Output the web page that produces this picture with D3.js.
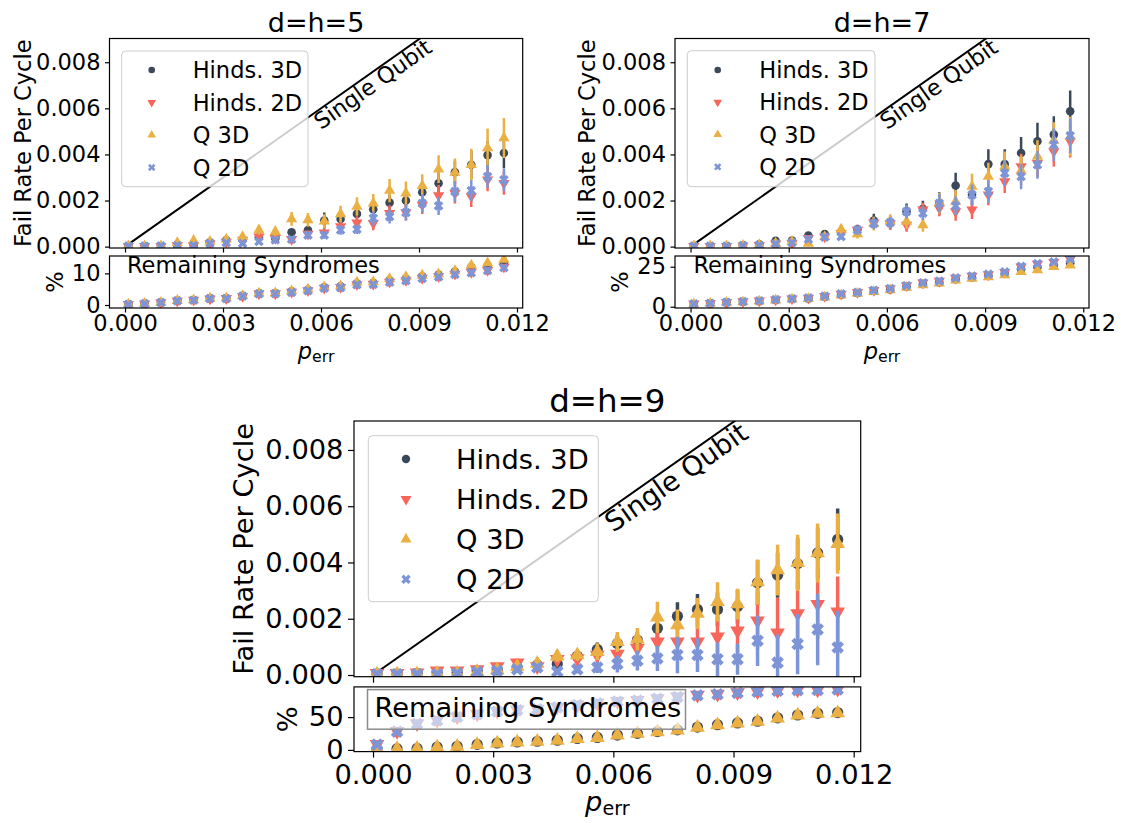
<!DOCTYPE html>
<html>
<head>
<meta charset="utf-8">
<script src="https://cdn.jsdelivr.net/npm/d3@7"></script>
<style>
  body { margin: 0; background: #fff; }
  svg { font-family: "DejaVu Sans", sans-serif; }
</style>
</head>
<body>
<div id="chart"></div>
<script>
// x axis: physical error rate
var pErr = [0.0001, 0.0006, 0.0011, 0.0016, 0.0021, 0.0026, 0.0031, 0.0036, 0.0041, 0.0046, 0.0051, 0.0056,
            0.0061, 0.0066, 0.0071, 0.0076, 0.0081, 0.0086, 0.0091, 0.0096, 0.0101, 0.0106, 0.0111, 0.0116];

var seriesNames = ["Hinds. 3D", "Hinds. 2D", "Q 3D", "Q 2D"];
var seriesColours = ["#3b4858", "#f8665b", "#ebb043", "#7d95d6"];
var seriesShapes = ["circle", "down", "up", "x"];

var xTicks = [0, 0.003, 0.006, 0.009, 0.012];
var failTicks = [0, 2, 4, 6, 8];           // units of 1e-3

// single qubit reference (fail rate = p_err), y in units of 1e-3
var singleQubit = [[0, 0], [0.0125, 12.5]];
var singleQubitLabel = [0.006, 5.05];

// d=h=5 : fail rate per cycle (x1e-3) and error bars
var fail5H3 = [0.03, 0.03, 0.03, 0.07, 0.07, 0.19, 0.29, 0.29, 0.40, 0.36, 0.62, 0.72, 1.13, 1.20, 1.42, 1.62, 1.91, 2.00, 2.36, 2.75, 3.23, 3.55, 3.97, 4.06];
var fail5H2 = [0.02, 0.02, 0.02, 0.05, 0.05, 0.14, 0.20, 0.29, 0.43, 0.36, 0.32, 0.55, 0.60, 0.87, 1.04, 1.01, 1.45, 1.48, 1.81, 2.22, 2.32, 2.17, 2.90, 2.75];
var fail5Q3 = [0.03, 0.03, 0.03, 0.17, 0.26, 0.22, 0.32, 0.43, 0.72, 0.65, 1.20, 1.16, 1.10, 1.42, 1.74, 1.88, 2.43, 2.32, 2.64, 3.36, 3.22, 3.55, 4.28, 4.71];
var fail5Q2 = [0.02, 0.02, 0.03, 0.05, 0.05, 0.14, 0.17, 0.14, 0.22, 0.29, 0.32, 0.50, 0.50, 0.72, 0.75, 1.23, 1.30, 1.48, 1.88, 1.77, 2.39, 2.43, 3.04, 2.90];
var err5H3 = [0.01, 0.01, 0.01, 0.03, 0.03, 0.06, 0.08, 0.08, 0.10, 0.10, 0.15, 0.18, 0.35, 0.25, 0.30, 0.35, 0.35, 0.40, 0.45, 0.55, 0.50, 0.60, 0.60, 0.65];
var err5H2 = [0.01, 0.01, 0.01, 0.03, 0.03, 0.05, 0.07, 0.08, 0.10, 0.10, 0.10, 0.15, 0.18, 0.25, 0.28, 0.30, 0.35, 0.35, 0.40, 0.45, 0.45, 0.45, 0.50, 0.50];
var err5Q3 = [0.01, 0.01, 0.01, 0.06, 0.08, 0.07, 0.10, 0.15, 0.20, 0.20, 0.30, 0.30, 0.30, 0.35, 0.40, 0.40, 0.50, 0.50, 0.50, 0.60, 0.60, 0.70, 0.85, 0.87];
var err5Q2 = [0.01, 0.01, 0.01, 0.03, 0.03, 0.05, 0.06, 0.05, 0.08, 0.10, 0.10, 0.15, 0.15, 0.20, 0.20, 0.30, 0.30, 0.35, 0.40, 0.40, 0.45, 0.45, 0.50, 0.50];
// d=h=5 : remaining syndromes (%)
var rem5H3 = [0.2, 0.5, 0.8, 1.4, 1.6, 2.1, 2.1, 2.9, 3.7, 3.7, 4.3, 4.8, 5.6, 5.9, 6.9, 7.0, 7.8, 8.4, 9.1, 9.6, 10.6, 12.0, 12.5, 13.1];
var rem5H2 = [0.2, 0.4, 0.8, 1.3, 1.6, 2.0, 2.1, 2.8, 3.6, 3.6, 4.1, 4.6, 5.4, 5.6, 6.5, 6.6, 7.3, 7.8, 8.5, 9.0, 9.8, 10.4, 11.0, 12.0];
var rem5Q3 = [0.2, 0.5, 0.8, 1.4, 1.6, 2.1, 2.2, 2.9, 3.7, 3.8, 4.4, 5.0, 5.7, 6.0, 7.2, 7.3, 8.3, 8.9, 9.4, 9.8, 10.8, 12.6, 13.3, 14.4];
var rem5Q2 = [0.2, 0.4, 0.8, 1.3, 1.5, 2.0, 2.0, 2.8, 3.5, 3.6, 4.0, 4.5, 5.3, 5.5, 6.4, 6.5, 7.2, 7.7, 8.4, 8.9, 9.7, 10.2, 10.9, 11.8];

// d=h=7
var fail7H3 = [0.03, 0.03, 0.03, 0.06, 0.10, 0.25, 0.26, 0.48, 0.55, 0.62, 0.75, 1.13, 1.04, 1.52, 1.64, 1.86, 2.65, 2.25, 3.58, 3.58, 4.06, 4.57, 4.86, 5.87];
var fail7H2 = [0.02, 0.02, 0.02, 0.04, 0.06, 0.12, 0.15, 0.36, 0.43, 0.58, 0.72, 1.04, 0.99, 0.94, 1.60, 1.67, 1.52, 1.60, 2.25, 2.83, 3.48, 3.62, 4.13, 4.57];
var fail7Q3 = [0.03, 0.03, 0.03, 0.05, 0.08, 0.14, 0.22, 0.14, 0.43, 0.75, 0.55, 1.00, 1.10, 1.09, 0.94, 1.88, 1.96, 2.61, 3.04, 3.48, 3.30, 3.91, 4.60, 4.78];
var fail7Q2 = [0.02, 0.02, 0.02, 0.04, 0.06, 0.12, 0.17, 0.32, 0.41, 0.43, 0.72, 1.00, 1.04, 1.52, 1.45, 1.88, 1.77, 2.25, 2.39, 3.19, 3.04, 3.55, 4.42, 4.81];
var err7H3 = [0.01, 0.01, 0.01, 0.03, 0.04, 0.08, 0.08, 0.12, 0.15, 0.18, 0.20, 0.30, 0.30, 0.35, 0.35, 0.50, 0.55, 0.45, 0.65, 0.65, 0.70, 0.80, 0.80, 0.90];
var err7H2 = [0.01, 0.01, 0.01, 0.02, 0.03, 0.05, 0.06, 0.10, 0.12, 0.15, 0.20, 0.25, 0.25, 0.30, 0.30, 0.35, 0.40, 0.40, 0.45, 0.50, 0.55, 0.60, 0.65, 0.70];
var err7Q3 = [0.01, 0.01, 0.01, 0.03, 0.04, 0.06, 0.08, 0.06, 0.15, 0.20, 0.20, 0.30, 0.30, 0.30, 0.30, 0.45, 0.50, 0.55, 0.60, 0.65, 0.65, 0.70, 0.80, 0.85];
var err7Q2 = [0.01, 0.01, 0.01, 0.02, 0.03, 0.05, 0.06, 0.10, 0.12, 0.12, 0.20, 0.25, 0.25, 0.30, 0.30, 0.40, 0.40, 0.45, 0.50, 0.55, 0.55, 0.60, 0.70, 0.75];
var rem7H3 = [1.7, 2.1, 2.7, 3.1, 3.5, 4.2, 4.8, 5.2, 6.2, 7.5, 8.6, 9.8, 10.8, 12.5, 14.2, 15.2, 17.2, 18.3, 19.3, 20.6, 23.4, 24.8, 25.8, 27.2];
var rem7H2 = [1.8, 2.2, 2.8, 3.2, 3.7, 4.4, 5.0, 5.5, 6.6, 8.0, 9.0, 10.3, 11.4, 13.2, 15.0, 16.0, 18.0, 19.2, 20.2, 21.6, 25.0, 26.7, 27.8, 29.6];
var rem7Q3 = [1.6, 2.0, 2.6, 3.0, 3.4, 4.0, 4.6, 5.0, 6.0, 7.2, 8.3, 9.4, 10.4, 12.0, 13.6, 14.6, 16.6, 17.6, 18.6, 19.8, 21.9, 22.9, 25.0, 26.0];
var rem7Q2 = [1.8, 2.2, 2.8, 3.2, 3.7, 4.4, 5.0, 5.5, 6.6, 8.0, 9.0, 10.3, 11.4, 13.2, 15.0, 16.0, 18.0, 19.2, 20.4, 21.8, 25.2, 26.9, 28.0, 29.8];

// d=h=9
var fail9H3 = [0.04, 0.04, 0.06, 0.08, 0.08, 0.15, 0.18, 0.27, 0.36, 0.39, 0.67, 0.91, 1.12, 1.24, 1.66, 2.09, 2.33, 2.33, 2.43, 3.28, 3.55, 3.96, 4.34, 4.82];
var fail9H2 = [0.06, 0.06, 0.08, 0.15, 0.15, 0.20, 0.30, 0.44, 0.30, 0.56, 0.59, 0.71, 0.75, 0.95, 1.18, 1.18, 1.18, 1.36, 1.57, 1.93, 1.50, 2.19, 2.52, 2.25];
var fail9Q3 = [0.03, 0.03, 0.04, 0.05, 0.05, 0.12, 0.18, 0.30, 0.41, 0.67, 0.71, 0.83, 1.18, 1.27, 2.05, 1.78, 2.19, 2.60, 2.52, 3.31, 3.73, 3.99, 4.34, 4.67];
var fail9Q2 = [0.03, 0.03, 0.03, 0.03, 0.06, 0.11, 0.15, 0.20, 0.27, 0.12, 0.20, 0.27, 0.39, 0.51, 0.59, 0.71, 0.71, 0.56, 0.56, 1.22, 0.44, 1.10, 1.62, 0.98];
var err9H3 = [0.02, 0.02, 0.02, 0.03, 0.03, 0.05, 0.06, 0.10, 0.12, 0.12, 0.20, 0.25, 0.30, 0.30, 0.35, 0.50, 0.55, 0.60, 0.60, 0.80, 0.80, 0.90, 0.90, 1.10];
var err9H2 = [0.03, 0.03, 0.03, 0.06, 0.06, 0.08, 0.10, 0.15, 0.12, 0.20, 0.25, 0.30, 0.35, 0.40, 0.45, 0.60, 0.60, 0.70, 0.85, 1.00, 1.25, 1.10, 1.25, 1.25];
var err9Q3 = [0.02, 0.02, 0.02, 0.03, 0.03, 0.05, 0.06, 0.10, 0.12, 0.20, 0.20, 0.30, 0.35, 0.40, 0.55, 0.55, 0.55, 0.70, 0.55, 0.80, 0.90, 1.00, 1.05, 1.07];
var err9Q2 = [0.02, 0.02, 0.02, 0.02, 0.03, 0.05, 0.06, 0.10, 0.12, 0.10, 0.15, 0.20, 0.30, 0.35, 0.45, 0.65, 0.60, 0.60, 0.55, 0.90, 1.00, 1.07, 1.27, 1.30];
var rem9H3 = [1.5, 1.8, 2.2, 4.3, 5.5, 8.4, 10.5, 12.0, 13.2, 14.7, 17.4, 19.0, 22.6, 25.2, 27.8, 30.5, 34.7, 38.4, 41.1, 43.7, 48.9, 53.2, 55.8, 56.9];
var rem9H2 = [8.5, 28.5, 40.2, 45.4, 50.6, 54.8, 58.9, 61.0, 62.4, 65.2, 68.9, 71.5, 74.1, 75.6, 78.4, 81.0, 83.6, 85.1, 87.3, 88.9, 90.5, 91.5, 91.6, 92.6];
var rem9Q3 = [1.2, 1.6, 2.0, 4.0, 5.2, 8.0, 10.2, 11.6, 12.8, 14.3, 17.0, 18.6, 22.2, 24.8, 27.4, 30.0, 34.2, 38.0, 40.6, 43.3, 48.4, 52.8, 55.4, 56.4];
var rem9Q2 = [8.0, 27.8, 39.6, 44.8, 50.0, 54.2, 58.4, 60.6, 62.0, 64.8, 68.5, 71.1, 73.7, 75.2, 78.0, 80.6, 83.2, 84.7, 86.9, 88.5, 90.1, 91.1, 91.2, 92.2];

// layout of the three panels
var panels = [
    { id: 5, title: "d=h=5", fail: [fail5H3, fail5H2, fail5Q3, fail5Q2], err: [err5H3, err5H2, err5Q3, err5Q2],
      rem: [rem5H3, rem5H2, rem5Q3, rem5Q2], remDomain: [-0.95, 15.5], remTicks: [0, 10],
      left: 109.5, right: 522.7, top: 38.5, mainBottom: 248, subTop: 256, subBottom: 308,
      font: 22.5, titleFont: 27, titleY: 32.3, ylabelX: 22.5, pctX: 55, xlabelY: 359,
      tick: 4.5, xPad: 2.5, yPad: 4.5, markerR: 4.3, ebWidth: 2.5, legMarkerR: 3.3,
      legX: 121.7, legY: 51, legW: 186.3, legH: 135.7, legMarkX: 30, legTextX: 71, legRow0: 19, legStep: 32.5,
      remTextX: 127, remTextY: 273, remBox: null },
    { id: 7, title: "d=h=7", fail: [fail7H3, fail7H2, fail7Q3, fail7Q2], err: [err7H3, err7H2, err7Q3, err7Q2],
      rem: [rem7H3, rem7H2, rem7Q3, rem7Q2], remDomain: [-0.8, 31.7], remTicks: [0, 25],
      left: 675, right: 1089, top: 38.5, mainBottom: 248, subTop: 256, subBottom: 308,
      font: 22.5, titleFont: 27, titleY: 32.3, ylabelX: 587, pctX: 620, xlabelY: 359,
      tick: 4.5, xPad: 2.5, yPad: 4.5, markerR: 4.3, ebWidth: 2.5, legMarkerR: 3.3,
      legX: 687.3, legY: 50.7, legW: 187.7, legH: 136, legMarkX: 30.4, legTextX: 72, legRow0: 19.3, legStep: 32.3,
      remTextX: 693.5, remTextY: 273, remBox: null },
    { id: 9, title: "d=h=9", fail: [fail9H3, fail9H2, fail9Q3, fail9Q2], err: [err9H3, err9H2, err9Q3, err9Q2],
      rem: [rem9H3, rem9H2, rem9Q3, rem9Q2], remDomain: [-2.6, 96], remTicks: [0, 50],
      left: 354, right: 860.7, top: 421, mainBottom: 676.7, subTop: 686.9, subBottom: 751.6,
      font: 27.3, titleFont: 32.5, titleY: 411.7, ylabelX: 243, pctX: 287.5, xlabelY: 811,
      tick: 6, xPad: 7, yPad: 4.5, markerR: 5.6, ebWidth: 3.5, legMarkerR: 4.2,
      legX: 368.3, legY: 435.7, legW: 230, legH: 166, legMarkX: 37.7, legTextX: 87.7, legRow0: 23.3, legStep: 40.1,
      remTextX: 374.5, remTextY: 717, remBox: { x: 367.5, y: 689.6, w: 318, h: 39.6 } }
];

var xDomain = [-0.000475, 0.012175];
var failDomain = [-0.06, 9.03];

var svg = d3.select("#chart").append("svg")
    .attr("width", 1122)
    .attr("height", 823);
var defs = svg.append("defs");

function markerPath(shape, r) {
    var area = Math.PI * r * r;
    var type = d3.symbolCircle;
    if (shape === "up" || shape === "down") { type = d3.symbolTriangle; area = area * 0.95; }
    if (shape === "x") { type = d3.symbolCross; }
    return d3.symbol().type(type).size(area)();
}
function markerRotate(shape) {
    if (shape === "down") return 180;
    if (shape === "x") return 45;
    return 0;
}

function styleAxis(sel, fontSize) {
    sel.attr("font-family", "DejaVu Sans").attr("font-size", fontSize);
    sel.select(".domain").remove();
    sel.selectAll(".tick line").attr("stroke", "#000").attr("stroke-width", 1.2);
    sel.selectAll(".tick text").attr("fill", "#000");
}

function drawPanel(p) {
    var x = d3.scaleLinear().domain(xDomain).range([p.left, p.right]);
    var y = d3.scaleLinear().domain(failDomain).range([p.mainBottom, p.top]);
    var yr = d3.scaleLinear().domain(p.remDomain).range([p.subBottom, p.subTop]);
    var g = svg.append("g").attr("class", "panel");

    defs.append("clipPath").attr("id", "clipMain" + p.id).append("rect")
        .attr("x", p.left).attr("y", p.top)
        .attr("width", p.right - p.left).attr("height", p.mainBottom - p.top);
    defs.append("clipPath").attr("id", "clipSub" + p.id).append("rect")
        .attr("x", p.left).attr("y", p.subTop)
        .attr("width", p.right - p.left).attr("height", p.subBottom - p.subTop);

    var main = g.append("g").attr("clip-path", "url(#clipMain" + p.id + ")");
    var sub = g.append("g").attr("clip-path", "url(#clipSub" + p.id + ")");

    // single qubit line
    main.append("path")
        .datum(singleQubit)
        .attr("d", d3.line().x(function(d) { return x(d[0]); }).y(function(d) { return y(d[1]); }))
        .attr("fill", "none")
        .attr("stroke", "#000")
        .attr("stroke-width", 2);

    seriesNames.forEach(function(name, s) {
        var pts = pErr.map(function(px, i) {
            return { x: px, y: p.fail[s][i], e: p.err[s][i], r: p.rem[s][i] };
        });
        var rot = markerRotate(seriesShapes[s]);

        main.selectAll(".eb" + s)
            .data(pts)
            .enter()
            .append("line")
            .attr("class", "eb" + s)
            .attr("x1", function(d) { return x(d.x); })
            .attr("x2", function(d) { return x(d.x); })
            .attr("y1", function(d) { return y(d.y - d.e); })
            .attr("y2", function(d) { return y(d.y + d.e); })
            .attr("stroke", seriesColours[s])
            .attr("stroke-width", p.ebWidth);

        main.selectAll(".mk" + s)
            .data(pts)
            .enter()
            .append("path")
            .attr("class", "mk" + s)
            .attr("d", markerPath(seriesShapes[s], p.markerR))
            .attr("transform", function(d) {
                return "translate(" + x(d.x) + "," + y(d.y) + ") rotate(" + rot + ")";
            })
            .attr("fill", seriesColours[s]);

        sub.selectAll(".rm" + s)
            .data(pts)
            .enter()
            .append("path")
            .attr("class", "rm" + s)
            .attr("d", markerPath(seriesShapes[s], p.markerR))
            .attr("transform", function(d) {
                return "translate(" + x(d.x) + "," + yr(d.r) + ") rotate(" + rot + ")";
            })
            .attr("fill", seriesColours[s]);
    });

    // "Remaining Syndromes" label (boxed in the big panel)
    if (p.remBox) {
        g.append("rect")
            .attr("x", p.remBox.x).attr("y", p.remBox.y)
            .attr("width", p.remBox.w).attr("height", p.remBox.h)
            .attr("fill", "#fff").attr("fill-opacity", 0.55)
            .attr("stroke", "#8c8c8c").attr("stroke-width", 1.5);
    }
    g.append("text")
        .attr("x", p.remTextX)
        .attr("y", p.remTextY)
        .style("font-size", p.font + "px")
        .text("Remaining Syndromes");

    // frames
    g.append("rect")
        .attr("x", p.left).attr("y", p.top)
        .attr("width", p.right - p.left).attr("height", p.mainBottom - p.top)
        .attr("fill", "none").attr("stroke", "#000").attr("stroke-width", 1.2);
    g.append("rect")
        .attr("x", p.left).attr("y", p.subTop)
        .attr("width", p.right - p.left).attr("height", p.subBottom - p.subTop)
        .attr("fill", "none").attr("stroke", "#000").attr("stroke-width", 1.2);

    // axes
    g.append("g")
        .attr("transform", "translate(0," + p.mainBottom + ")")
        .call(d3.axisBottom(x).tickValues(xTicks).tickSize(p.tick).tickFormat(""))
        .call(styleAxis, p.font);
    g.append("g")
        .attr("transform", "translate(0," + p.subBottom + ")")
        .call(d3.axisBottom(x).tickValues(xTicks).tickSize(p.tick).tickPadding(p.xPad)
            .tickFormat(function(d) { return d.toFixed(3); }))
        .call(styleAxis, p.font);
    g.append("g")
        .attr("transform", "translate(" + p.left + ",0)")
        .call(d3.axisLeft(y).tickValues(failTicks).tickSize(p.tick).tickPadding(p.yPad)
            .tickFormat(function(d) { return (d / 1000).toFixed(3); }))
        .call(styleAxis, p.font);
    g.append("g")
        .attr("transform", "translate(" + p.left + ",0)")
        .call(d3.axisLeft(yr).tickValues(p.remTicks).tickSize(p.tick).tickPadding(p.yPad))
        .call(styleAxis, p.font);

    // legend
    var leg = g.append("g").attr("transform", "translate(" + p.legX + "," + p.legY + ")");
    leg.append("rect")
        .attr("width", p.legW).attr("height", p.legH).attr("rx", 4)
        .attr("fill", "#fff").attr("fill-opacity", 0.8)
        .attr("stroke", "#cccccc").attr("stroke-width", 1);
    seriesNames.forEach(function(name, s) {
        var ry = p.legRow0 + s * p.legStep;
        leg.append("path")
            .attr("d", markerPath(seriesShapes[s], p.legMarkerR))
            .attr("transform", "translate(" + p.legMarkX + "," + ry + ") rotate(" + markerRotate(seriesShapes[s]) + ")")
            .attr("fill", seriesColours[s]);
        leg.append("text")
            .attr("x", p.legTextX)
            .attr("y", ry)
            .attr("dy", "0.36em")
            .style("font-size", p.font + "px")
            .text(name);
    });

    // single qubit label, rotated along the line
    var ang = Math.atan2(y(0) - y(1), x(0.001) - x(0)) * 180 / Math.PI;
    g.append("text")
        .attr("transform", "translate(" + x(singleQubitLabel[0]) + "," + y(singleQubitLabel[1]) + ") rotate(" + (-ang) + ")")
        .style("font-size", p.font + "px")
        .text("Single Qubit");

    // titles and axis labels
    g.append("text")
        .attr("x", (p.left + p.right) / 2)
        .attr("y", p.titleY)
        .attr("text-anchor", "middle")
        .style("font-size", p.titleFont + "px")
        .text(p.title);
    g.append("text")
        .attr("transform", "translate(" + p.ylabelX + "," + (p.top + p.mainBottom) / 2 + ") rotate(-90)")
        .attr("dy", "0.36em")
        .attr("text-anchor", "middle")
        .style("font-size", p.font + "px")
        .text("Fail Rate Per Cycle");
    g.append("text")
        .attr("transform", "translate(" + p.pctX + "," + (p.subTop + p.subBottom) / 2 + ") rotate(-90)")
        .attr("dy", "0.36em")
        .attr("text-anchor", "middle")
        .style("font-size", p.font + "px")
        .text("%");
    var xl = g.append("text")
        .attr("x", (p.left + p.right) / 2)
        .attr("y", p.xlabelY)
        .attr("text-anchor", "middle")
        .style("font-size", p.font + "px");
    xl.append("tspan").style("font-style", "italic").text("p");
    xl.append("tspan").attr("dy", "0.22em").style("font-size", (p.font * 0.7) + "px").text("err");
}

panels.forEach(drawPanel);
</script>
</body>
</html>
